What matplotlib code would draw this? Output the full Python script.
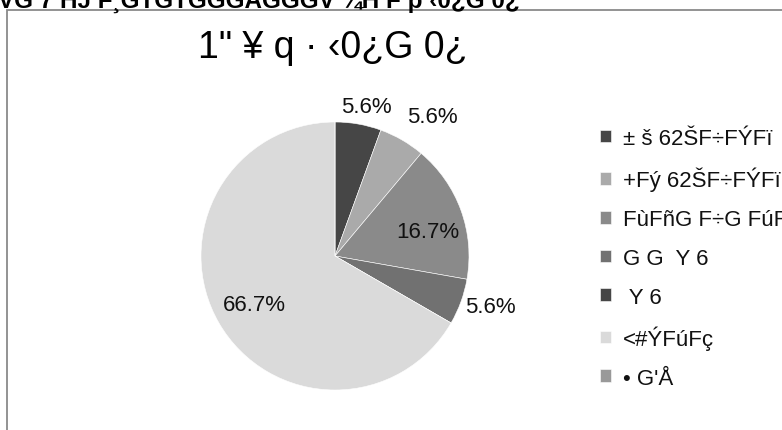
import numpy as np
import matplotlib
matplotlib.use("Agg")
import matplotlib.pyplot as plt
from matplotlib.patches import Rectangle

plt.rcParams['font.family'] = ['Liberation Sans', 'DejaVu Sans']

top_text = "VG 7 HJ F¸GTGTGGGAGGGV ¾H F þ ‹0¿G 0¿"
title = "1\" ¥ q · ‹0¿G 0¿"
categories = ["± š 62ŠF÷FÝFï", "+Fý 62ŠF÷FÝFï", "FùFñG F÷G FúFï",
              "G G  Y 6", " Y 6", "<#ÝFúFç", "• G'Å"]
values = [1, 1, 3, 1, 0, 12, 0]
colors = ["#464646", "#aaaaaa", "#8a8a8a", "#717171", "#464646", "#dadada", "#999999"]
label_radius = [1.14, 1.27, 0.72, 1.22, 1.0, 0.70, 1.0]
label_angle_shift = [-2, -5, -5, 2, 0, 1, 0]

W, H = 782, 431
fig = plt.figure(figsize=(W / 100, H / 100), dpi=100)

cx, cy, r = 335, 257, 134
ax = fig.add_axes([(cx - r) / W, (H - cy - r) / H, 2 * r / W, 2 * r / H])
wedges, _ = ax.pie(values, colors=colors, startangle=90, counterclock=False,
                   wedgeprops=dict(edgecolor='white', linewidth=0.4))
ax.set_xlim(-1, 1)
ax.set_ylim(-1, 1)
ax.set_aspect('equal')
ax.axis('off')

total = sum(values)
for w, v, rf, da in zip(wedges, values, label_radius, label_angle_shift):
    if v == 0:
        continue
    ang = np.deg2rad((w.theta1 + w.theta2) / 2 + da)
    ax.text(rf * np.cos(ang), rf * np.sin(ang), f"{100 * v / total:.1f}%",
            ha='center', va='center', fontsize=16, color='#111111', clip_on=False)

fig.text(333 / W, 1 - 48 / H, title, ha='center', va='center', fontsize=27, color='black')
fig.text(-2 / W, 1 - 8 / H, top_text, ha='left', va='baseline', fontsize=17.5,
         fontweight='bold', color='black')

fig.add_artist(Rectangle((7 / W, -0.1), 1.2, 1.1 - 10.5 / H, transform=fig.transFigure,
                         fill=False, edgecolor='#8a8a8a', linewidth=1.3))

leg = fig.legend(wedges, categories, loc='upper left', bbox_to_anchor=(600 / W, 1 - 129 / H),
                 frameon=False, fontsize=16, handlelength=0.5, handleheight=0.5,
                 handletextpad=0.55, labelspacing=0.80, borderaxespad=0, borderpad=0)
for t in leg.get_texts():
    t.set_color('#111111')

fig.savefig("out.png", dpi=100)
